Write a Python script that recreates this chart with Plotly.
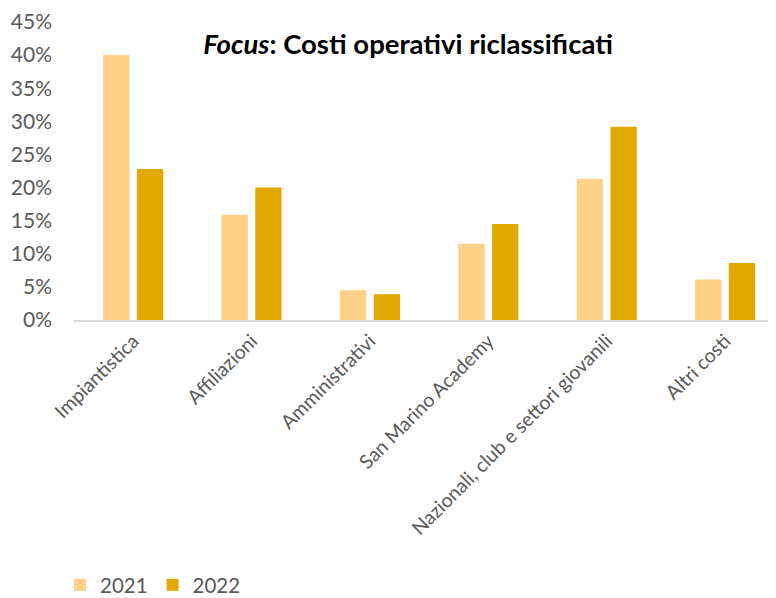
import plotly.graph_objects as go

categories = ["Impiantistica", "Affiliazioni", "Amministrativi", "San Marino Academy",
              "Nazionali, club e settori giovanili", "Altri costi"]
values_2021 = [40.0, 15.9, 4.5, 11.5, 21.3, 6.1]
values_2022 = [22.8, 20.0, 3.9, 14.5, 29.2, 8.6]
tick_vals = [0, 5, 10, 15, 20, 25, 30, 35, 40, 45]
tick_text = [f"{v}%" for v in tick_vals]

FONT = "Lato"
GRAY = "#595959"
W, H = 768, 590  # page body has an 8px margin

fig = go.Figure()
fig.add_trace(go.Bar(name="2021", x=categories, y=values_2021, marker_color="#FFD086",
                     marker_line_width=0))
fig.add_trace(go.Bar(name="2022", x=categories, y=values_2022, marker_color="#E2AA00",
                     marker_line_width=0))

fig.update_layout(
    width=W, height=H,
    margin=dict(l=66, r=0, t=14, b=278),
    paper_bgcolor="white", plot_bgcolor="white",
    barmode="group", bargap=0.43, bargroupgap=0.22,
    font=dict(family=FONT, color=GRAY, size=21),
    title=dict(text="<b><i>Focus</i>: Costi operativi riclassificati</b>",
               x=400 / W, xref="container", xanchor="center",
               y=1 - 36 / H, yref="container", yanchor="middle",
               font=dict(family=FONT, size=27.5, color="black")),
    showlegend=True,
    legend=dict(orientation="h", x=52 / W, xref="container", xanchor="left",
                y=1 - 577 / H, yref="container", yanchor="middle",
                font=dict(size=20.5, color=GRAY), itemwidth=30, traceorder="normal"),
    xaxis=dict(type="category", range=[-0.5, 5.43], showgrid=False, automargin=False,
               showline=True, linecolor="#D9D9D9", linewidth=2,
               tickangle=-45, tickfont=dict(size=19.5, color=GRAY), ticks=""),
    yaxis=dict(range=[0, 45], tickvals=tick_vals, ticktext=tick_text, automargin=False,
               showgrid=False, showline=False, zeroline=False,
               ticklabelstandoff=21, tickfont=dict(size=21, color=GRAY)),
)

fig.write_html("out.html")
